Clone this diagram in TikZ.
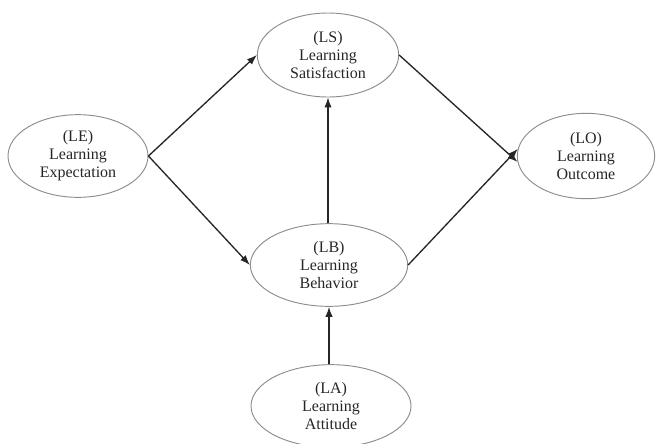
\documentclass[tikz,border=0pt]{standalone}
\usepackage{fontspec}
\setmainfont{Liberation Serif}
\usetikzlibrary{shapes.geometric,arrows.meta}
\begin{document}
\begin{tikzpicture}[x=0.75pt,y=-0.75pt,
  construct/.style={ellipse,draw=black!45,line width=0.7pt,inner sep=0pt,
    align=center,font=\fontsize{12}{13.6}\selectfont,text=black!85},
  link/.style={draw=black!85,line width=1pt,-{Latex[length=7.5pt,width=5.5pt]}}]
\useasboundingbox (0,0) rectangle (656,443);
\node[construct,minimum width=106pt,minimum height=63pt] (LS) at (328,55) {(LS)\\Learning\\Satisfaction};
\node[construct,minimum width=105pt,minimum height=62pt] (LE) at (78,156) {(LE)\\Learning\\Expectation};
\node[construct,minimum width=103pt,minimum height=64pt] (LO) at (586,156) {(LO)\\Learning\\Outcome};
\node[construct,minimum width=118pt,minimum height=62pt] (LB) at (329,265) {(LB)\\Learning\\Behavior};
\node[construct,minimum width=120pt,minimum height=62pt] (LA) at (331,406) {(LA)\\Learning\\Attitude};
\draw[link] (LE.east) -- (LS.west);
\draw[link] (LE.east) -- (LB.west);
\draw[link] (LS.east) -- (LO.185);
\draw[link] (LB.east) -- (LO.174);
\draw[link] (LB.north -| LS.south) -- (LS.south);
\draw[link] (LA.north -| LB.south) -- (LB.south);
\end{tikzpicture}
\end{document}
